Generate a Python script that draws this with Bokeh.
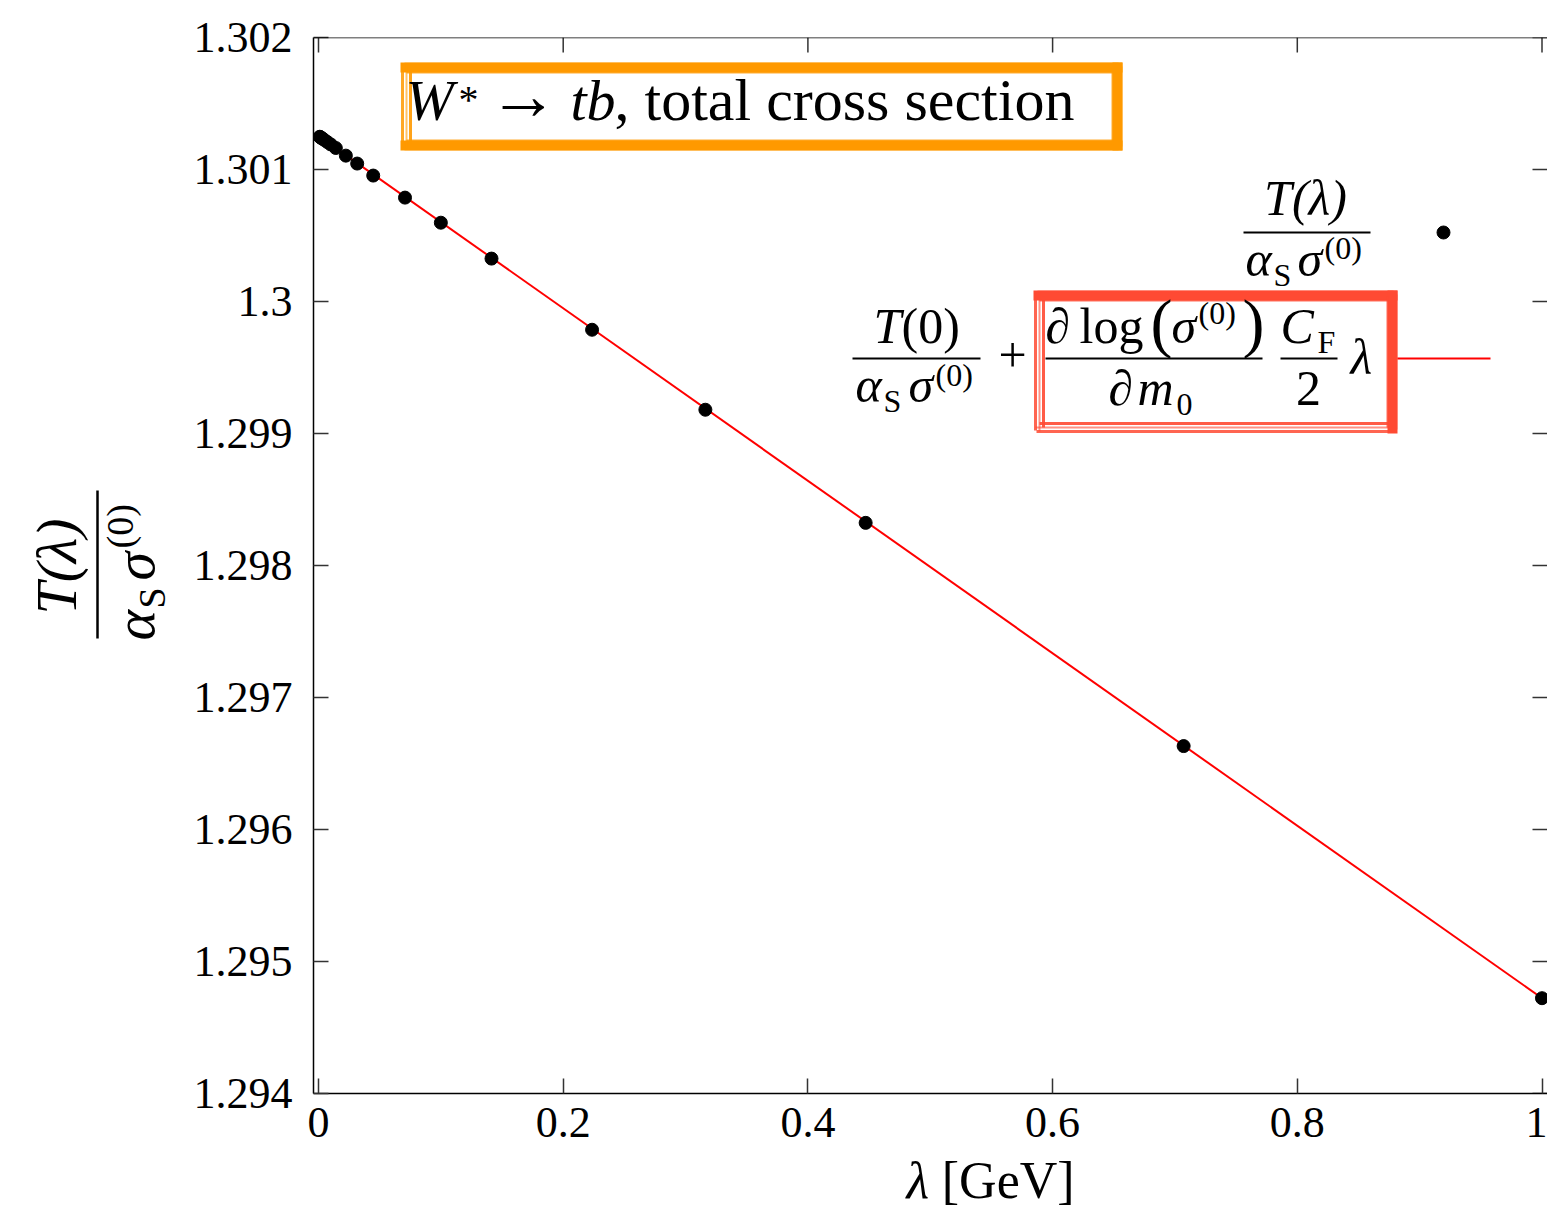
import math
from bokeh.plotting import figure
from bokeh.models import Range1d, LinearAxis, FixedTicker, Span
from bokeh.layouts import row, column
from bokeh.core.properties import value
from bokeh.embed import file_html
from bokeh.resources import INLINE

# ---------------- data ----------------
lam = [1.0, 0.7071, 0.4472, 0.3162, 0.2236, 0.1414, 0.1, 0.07071, 0.04472,
       0.03162, 0.02236, 0.01414, 0.01, 0.007071, 0.004472, 0.003162,
       0.002236, 0.001414, 0.001]
T_ratio = [1.294722, 1.296632, 1.298323, 1.299180, 1.299786, 1.300325,
           1.300597, 1.300787, 1.300954, 1.301045, 1.301105, 1.301163,
           1.301190, 1.301209, 1.301226, 1.301234, 1.301240, 1.301246,
           1.301248]
fit_lambda = [0.0, 1.0045]
fit_values = [1.301255, 1.294693]

x_ticks = [0.0, 0.2, 0.4, 0.6, 0.8, 1.0]
x_tick_labels = ["0", "0.2", "0.4", "0.6", "0.8", "1"]
y_ticks = [1.294, 1.295, 1.296, 1.297, 1.298, 1.299, 1.3, 1.301, 1.302]
y_tick_labels = ["1.294", "1.295", "1.296", "1.297", "1.298", "1.299",
                 "1.3", "1.301", "1.302"]

# ---------------- layout (global pixel geometry) ----------------
W, H = 1547, 1210
LW = 180                     # width of the y-title strip
MH = 1152                    # height of the main figure
FL, FR, FT, FB = 313, 1547, 37, 1093          # frame edges (global px)
X0PX, X1PX = 318.0, 1541.5                    # px of lambda = 0 and 1
sx = (X1PX - X0PX) / 1.0
x_start = -(X0PX - FL) / sx
x_end = x_start + (FR - FL) / sx
y_start, y_end = 1.294, 1.302
FONT = "Liberation Serif"
TICK = 15                    # tick length, px
TICK_COLOR = "#333333"


def base_shift(size):
    # the rendered alphabetic baseline sits this far below the anchor
    return 0.45 * size - 5.0


def px2x(X):
    return x_start + (X - FL) / (FR - FL) * (x_end - x_start)


def px2y(Y):
    return y_end - (Y - FT) / (FB - FT) * (y_end - y_start)


def bare(fig):
    fig.outline_line_color = None
    fig.xgrid.visible = False
    fig.ygrid.visible = False
    fig.background_fill_color = "white"
    fig.border_fill_color = "white"


p = figure(width=W - LW, height=MH, output_backend="svg", toolbar_location=None,
           x_range=Range1d(x_start, x_end), y_range=Range1d(y_start, y_end),
           min_border_left=FL - LW, min_border_right=W - FR,
           min_border_top=FT, min_border_bottom=MH - FB,
           x_axis_location=None, y_axis_location=None)
bare(p)


def style_axis(ax, ticks, labels, standoff):
    ax.ticker = FixedTicker(ticks=ticks)
    ax.major_label_overrides = dict(zip(ticks, labels))
    ax.major_tick_in = TICK
    ax.major_tick_out = 0
    ax.major_tick_line_color = TICK_COLOR
    ax.major_tick_line_width = 1.5
    ax.minor_tick_line_color = None
    ax.axis_line_color = "black"
    ax.axis_line_width = 1.5
    ax.major_label_text_font = FONT
    ax.major_label_text_font_size = "44px"
    ax.major_label_text_color = "black"
    ax.major_label_standoff = standoff


xb = LinearAxis()
style_axis(xb, x_ticks, x_tick_labels, 14)
p.add_layout(xb, "below")
yl = LinearAxis()
style_axis(yl, y_ticks, y_tick_labels, 21)
p.add_layout(yl, "left")

# top frame line and mirrored (inward) ticks on the top and right edges
p.add_layout(Span(location=y_end, dimension="width", line_color="black",
                  line_width=1.5))
dxt = TICK * (x_end - x_start) / (FR - FL)
dyt = TICK * (y_end - y_start) / (FB - FT)
p.segment(x0=x_ticks, y0=[y_end] * len(x_ticks), x1=x_ticks,
          y1=[y_end - dyt] * len(x_ticks), line_color=TICK_COLOR, line_width=1.5)
p.segment(x0=[x_end] * len(y_ticks), y0=y_ticks, x1=[x_end - dxt] * len(y_ticks),
          y1=y_ticks, line_color=TICK_COLOR, line_width=1.5)

# ---------------- data marks ----------------
p.line(fit_lambda, fit_values, line_color="red", line_width=2)
p.scatter(lam, T_ratio, size=13, color="black")

# ---------------- side strips for axis titles ----------------
ylab = figure(width=LW, height=H, output_backend="svg", toolbar_location=None,
              x_range=Range1d(0, LW), y_range=Range1d(0, H), min_border=0,
              x_axis_location=None, y_axis_location=None)
bare(ylab)
XLH = H - MH
xlab = figure(width=W - LW, height=XLH, output_backend="svg",
              toolbar_location=None, x_range=Range1d(LW, W),
              y_range=Range1d(0, XLH), min_border=0,
              x_axis_location=None, y_axis_location=None)
bare(xlab)


def make_tools(fig, mx, my):
    def t(X, Y, s, size, style="normal", align="left", baseline="alphabetic",
          angle=0.0, color="black"):
        d = base_shift(size)
        Xc = X - d * math.sin(angle)
        Yc = Y - d * math.cos(angle)
        fig.text(x=[mx(Xc)], y=[my(Yc)], text=[s], text_font=value(FONT),
                 text_font_size=value(f"{size}px"),
                 text_font_style=value(style), text_align=value(align),
                 text_baseline=value(baseline), angle=angle, text_color=color)

    def seg(Xa, Ya, Xb, Yb, w=2.0, color="black", alpha=1.0):
        fig.segment(x0=[mx(Xa)], y0=[my(Ya)], x1=[mx(Xb)], y1=[my(Yb)],
                    line_width=w, line_color=color, line_alpha=alpha)
    return t, seg


txt, bar = make_tools(p, px2x, px2y)
ytxt, ybar = make_tools(ylab, lambda X: X, lambda Y: H - Y)
xtxt, _ = make_tools(xlab, lambda X: X, lambda Y: H - Y)


def scribble_box(L, T, R, B, color, heavy=("top", "right")):
    # hand-drawn style frame: a few offset strokes of varying weight
    sides = {
        "top": lambda o, e: (L + e, T + o, R - e, T + o),
        "bottom": lambda o, e: (L + e, B - o, R - e, B - o),
        "left": lambda o, e: (L + o, T + e, L + o, B - e),
        "right": lambda o, e: (R - o, T + e, R - o, B - e),
    }
    for name, f in sides.items():
        if name in heavy:
            strokes = [(5, 10, 1.0, 0), (1, 2, 0.55, 4), (10, 2, 0.8, 6)]
        else:
            strokes = [(2, 3, 0.85, 3), (6, 2, 0.6, 2), (10, 3, 0.9, 6)]
        for o, w, a, e in strokes:
            bar(*f(o, e), w=w, color=color, alpha=a)


# ---------------- title box ----------------
scribble_box(400, 62, 1122, 150, "#ff9900", heavy=("top", "bottom", "right"))
txt(405, 121, "W", 58, "italic")
txt(458, 112, "*", 40)
txt(488, 121, "\u2192", 70)
txt(570, 121, "tb", 58, "italic")
txt(614, 121, ", total cross section", 60)

# ---------------- legend entry 1 ----------------
txt(1305, 215, "T(\u03bb)", 50, "italic", align="center")
bar(1243, 232, 1370, 232, 2)
txt(1245, 276, "\u03b1", 50, "italic")
txt(1273, 284, "S", 32)
txt(1297, 276, "\u03c3", 50, "italic")
txt(1324, 257, "(0)", 32)
p.scatter([px2x(1443)], [px2y(232)], size=13, color="black")

# ---------------- legend entry 2 ----------------
scribble_box(1033, 290, 1397, 433, "#ff4a33", heavy=("top", "right"))
txt(873, 343, "T", 50, "italic")
txt(901, 343, "(0)", 50)
bar(852, 358, 980, 358, 2)
txt(855, 402, "\u03b1", 50, "italic")
txt(883, 410, "S", 32)
txt(908, 402, "\u03c3", 50, "italic")
txt(935, 384, "(0)", 32)
txt(1012, 372, "+", 50, align="center")
txt(1045, 343, "\u2202", 50)
txt(1079, 343, "log", 50)
txt(1150, 347, "(", 66)
txt(1171, 343, "\u03c3", 50, "italic")
txt(1198, 322, "(0)", 32)
txt(1242, 347, ")", 66)
bar(1045, 358, 1262, 358, 2)
txt(1108, 405, "\u2202", 50)
txt(1137, 405, "m", 50, "italic")
txt(1176, 413, "0", 32)
txt(1280, 343, "C", 50, "italic")
txt(1317, 351, "F", 32)
bar(1280, 358, 1337, 358, 2)
txt(1308, 405, "2", 50, align="center")
txt(1350, 374, "\u03bb", 50, "italic")
bar(1397, 358, 1490, 358, 2, color="red")

# ---------------- axis titles ----------------
xtxt(837, 1198, "\u03bb", 52, "italic")
xtxt(876, 1198, "[GeV]", 52)

ang = math.pi / 2
ytxt(77, 566, "T(\u03bb)", 58, "italic", align="center", angle=ang)
ybar(97, 490, 97, 638, 2.5)
ytxt(155, 640, "\u03b1", 58, "italic", angle=ang)
ytxt(164, 608, "S", 38, angle=ang)
ytxt(155, 580, "\u03c3", 58, "italic", angle=ang)
ytxt(132, 548, "(0)", 38, angle=ang)

layout = row(ylab, column(p, xlab, spacing=0), spacing=0)
open("out.html", "w").write(file_html(layout, INLINE))
